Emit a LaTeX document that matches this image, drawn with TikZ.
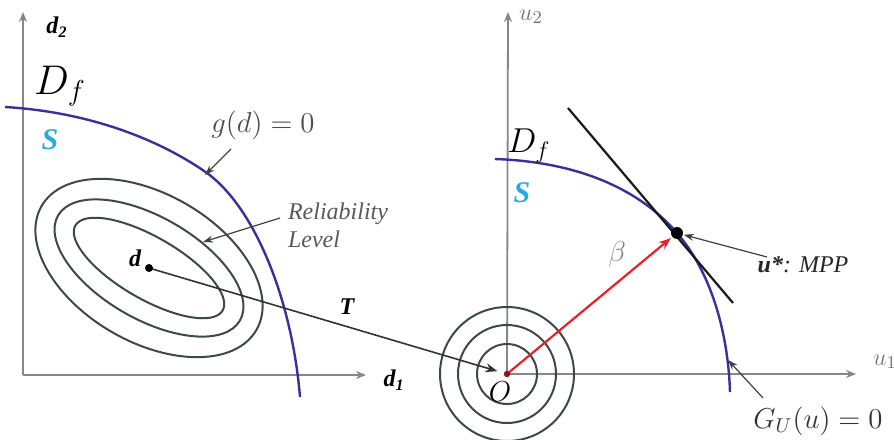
\documentclass[tikz,border=0pt]{standalone}
\usepackage{amsmath,amssymb}
\usepackage{fontspec}
\setmainfont{Liberation Serif}
\usetikzlibrary{arrows.meta}

\definecolor{curveblue}{RGB}{58,48,155}
\definecolor{safecyan}{RGB}{41,170,225}
\definecolor{axisgray}{RGB}{135,135,135}
\definecolor{contour}{RGB}{62,72,68}
\definecolor{mppred}{RGB}{232,32,42}

\begin{document}
\begin{tikzpicture}[x=0.5pt, y=-0.5pt,
  axis/.style={draw=axisgray, line width=0.9pt, -{Stealth[length=5pt,width=4pt]}},
  limit/.style={draw=curveblue, line width=1.2pt},
  level/.style={draw=contour, line width=1pt},
  ptr/.style={draw=black!75, line width=0.6pt, -{Stealth[length=5pt,width=3.5pt]}},
  lbl/.style={inner sep=0pt, font=\fontsize{12}{14}\selectfont\bfseries\itshape},
  safe/.style={inner sep=0pt, text=safecyan, font=\fontsize{15}{17}\selectfont\bfseries\itshape}
]
  \useasboundingbox (0,0) rectangle (894,439);
  \clip (0,0) rectangle (894,439);

  % key points
  \coordinate (dorig) at (23,375);
  \coordinate (d2end) at (23,12);
  \coordinate (d1end) at (366,375);
  \coordinate (dpt) at (149,268);
  \coordinate (O) at (507,374);
  \coordinate (u2end) at (508,12);
  \coordinate (u1end) at (856,374);
  \coordinate (mpp) at (677,233);

  % axes
  \draw[axis] (dorig) -- (d2end);
  \draw[axis] (dorig) -- (d1end);
  \draw[axis] (O) -- (u2end);
  \draw[axis] (O) -- (u1end);
  \node[lbl] (d2lab) at (57,27) {d\textsubscript{2}};
  \node[lbl] (d1lab) at (394,380) {d\textsubscript{1}};
  \node[inner sep=0pt, text=black!55, font=\fontsize{13}{15}\selectfont] (u2lab) at (531,17) {$u_2$};
  \node[inner sep=0pt, text=black!55, font=\fontsize{13}{15}\selectfont] (u1lab) at (885,362) {$u_1$};

  % limit state curves
  \draw[limit] (5,107) .. controls (90,112) and (160,140) .. (207,173)
    .. controls (255,208) and (292,300) .. (300,397);
  \draw[limit] (495,159) .. controls (580,162) and (640,190) .. (677,233)
    .. controls (710,271) and (728,330) .. (730,392);

  % reliability contours
  \foreach \a/\b in {42.5/15.5, 52.5/25.5, 62/37}
    \draw[level, rotate around={-30:(dpt)}] (dpt) ellipse [x radius=\a pt, y radius=\b pt];
  \foreach \r in {15,24.5,33.5}
    \draw[level] (O) circle [radius=\r pt];

  % tangent at MPP
  \coordinate (tanA) at (568,108);
  \coordinate (tanB) at (733,303);
  \draw[line width=1.1pt, black!90] (tanA) -- (tanB);

  % transformation and beta
  \draw[line width=0.8pt, black!80, -{Stealth[length=6pt,width=4.5pt]}, shorten >=5pt] (dpt) -- (O);
  \draw[line width=1.1pt, mppred, -{Stealth[length=6pt,width=4.5pt]}, shorten >=4pt] (O) -- (mpp);
  \fill (dpt) circle (2pt);
  \fill[mppred!60!black] (O) circle (1.6pt);
  \fill (mpp) circle (3pt);

  % labels
  \node[inner sep=0pt, font=\fontsize{20}{22}\selectfont] (df1) at (60,86) {$D_f$};
  \node[inner sep=0pt, font=\fontsize{18}{20}\selectfont] (df2) at (529,146) {$D_f$};
  \node[safe] (s1) at (50,140) {S};
  \node[safe] (s2) at (522,193) {S};
  \node[inner sep=0pt, text=black!70, font=\fontsize{15}{17}\selectfont] (glab) at (263,125) {$g(d) = 0$};
  \node[inner sep=0pt, align=left, text=black!65, font=\fontsize{12}{14}\selectfont\itshape] (rellab) at (338,225) {Reliability\\Level};
  \node[lbl] (dlab) at (135,258) {d};
  \node[lbl] (Tlab) at (347,307) {T};
  \node[inner sep=0pt, font=\fontsize{14}{16}\selectfont] (Olab) at (500,392) {$O$};
  \node[inner sep=0pt, text=black!50, font=\fontsize{14}{16}\selectfont] (blab) at (617,254) {$\beta$};
  \node[inner sep=0pt, text=black!85, font=\fontsize{12}{14}\selectfont\itshape] (mpplab) at (803,265) {\textbf{u*}: MPP};
  \node[inner sep=0pt, text=black!80, font=\fontsize{14}{16}\selectfont] (Glab) at (818,421) {$G_U(u) = 0$};

  % pointers
  \coordinate (gtail) at (231,149);
  \coordinate (gtip) at (205,175);
  \coordinate (reltail) at (280,218);
  \coordinate (reltip) at (203,242);
  \coordinate (mpptail) at (767,257);
  \coordinate (Gtail) at (763,398);
  \coordinate (Gtip) at (728,360);
  \draw[ptr] (gtail) -- (gtip);
  \draw[ptr] (reltail) -- (reltip);
  \draw[ptr, shorten >=3.5pt] (mpptail) -- (mpp);
  \draw[ptr] (Gtail) -- (Gtip);
\end{tikzpicture}
\end{document}
